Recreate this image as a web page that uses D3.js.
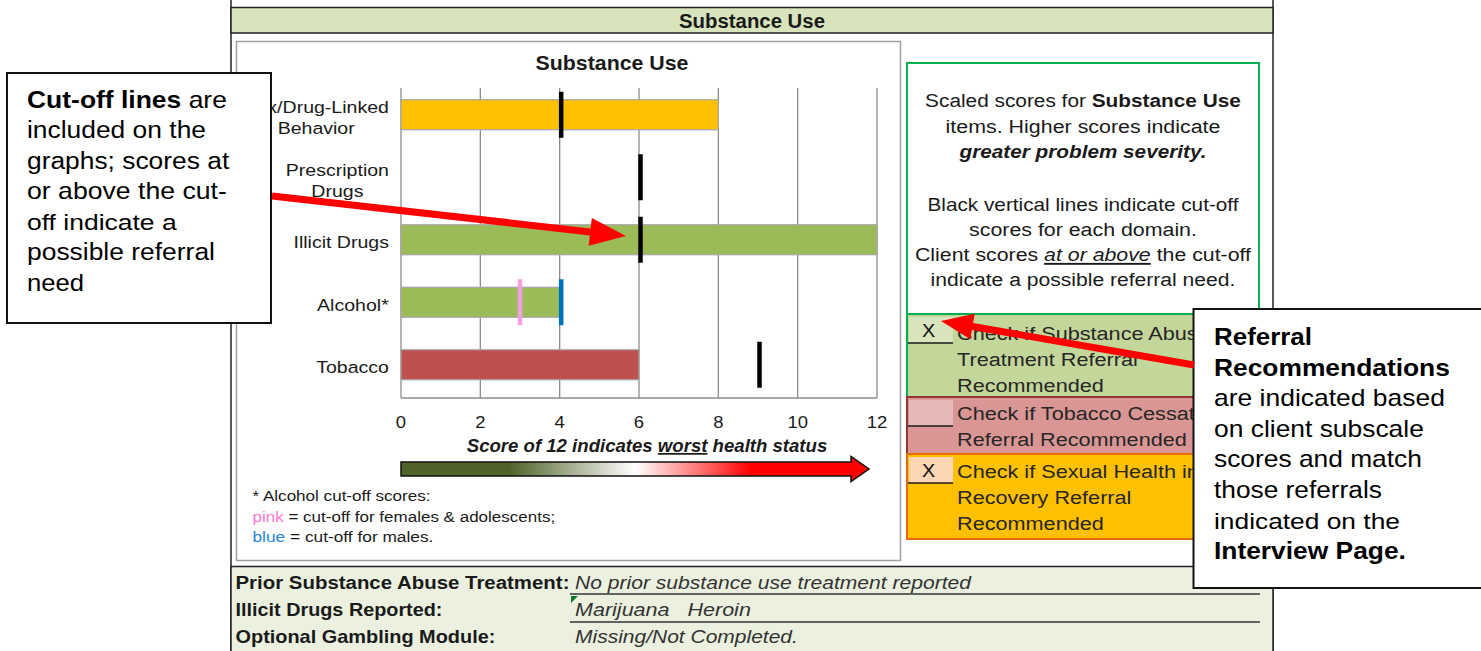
<!DOCTYPE html>
<html><head><meta charset="utf-8">
<script src="https://cdn.jsdelivr.net/npm/d3@7"></script>
<style>body{margin:0;background:#fff}svg{display:block}</style>
</head><body>
<svg id="c" width="1481" height="651"></svg>
<script>
// ---------- data ----------
const categories = ["Sex/Drug-Linked Behavior", "Prescription Drugs", "Illicit Drugs", "Alcohol*", "Tobacco"];
const categoryLines = [["Sex/Drug-Linked", "Behavior"], ["Prescription", "Drugs"], ["Illicit Drugs"], ["Alcohol*"], ["Tobacco"]];
const scores = [8, 0, 12, 4, 6];
const cutoffs = [4, 6, 6, 4, 9];
const cutoffColors = ["#000000", "#000000", "#000000", "#0070C0", "#000000"];
const femaleCutoffs = [null, null, null, 3, null];
const barColors = ["#FFC000", "#9BBB59", "#9BBB59", "#9BBB59", "#C0504D"];
const tickValues = [0, 2, 4, 6, 8, 10, 12];
const referrals = [
  {lines: ["Check if Substance Abuse", "Treatment Referral", "Recommended"], checked: true},
  {lines: ["Check if Tobacco Cessation", "Referral Recommended"], checked: false},
  {lines: ["Check if Sexual Health in", "Recovery Referral", "Recommended"], checked: true}
];
const infoLabels = ["Prior Substance Abuse Treatment:", "Illicit Drugs Reported:", "Optional Gambling Module:"];
const infoValues = ["No prior substance use treatment reported", "Marijuana   Heroin", "Missing/Not Completed."];

// ---------- helpers ----------
const FONT = "'Liberation Sans', Arial, Helvetica, sans-serif";
const NARROW = "'Liberation Sans Narrow', 'Arial Narrow', 'Liberation Sans', Arial, sans-serif";
const svg = d3.select("#c");
function txt(parent, o) {
  const g = parent.append("g");
  const t = g.append("text")
    .attr("font-size", o.size).attr("font-family", o.family || FONT)
    .attr("font-weight", o.weight || "normal").attr("font-style", o.style || "normal")
    .attr("fill", o.fill || "#1a1a1a").attr("text-anchor", o.anchor || "start")
    .style("white-space", "pre");
  const parts = typeof o.parts === "string" ? [{t: o.parts}] : o.parts;
  parts.forEach(p => {
    const ts = t.append("tspan").text(p.t);
    if (p.b) ts.attr("font-weight", "bold");
    if (p.i) ts.attr("font-style", "italic");
    if (p.u) ts.attr("text-decoration", "underline");
    if (p.fill) ts.attr("fill", p.fill);
  });
  let s = o.sx || 1.13;
  if (o.width) { const w = t.node().getBBox().width; if (w > 0) s = o.width / w; }
  g.attr("transform", `translate(${o.x},${o.y}) scale(${s},1)`);
  return g;
}
function arrowPoly(x1, y1, x2, y2, shaft, headLen, headW) {
  const dx = x2 - x1, dy = y2 - y1, L = Math.hypot(dx, dy);
  const ux = dx / L, uy = dy / L, nx = -uy, ny = ux;
  const bx = x2 - ux * headLen, by = y2 - uy * headLen;
  const p = [
    [x1 + nx * shaft / 2, y1 + ny * shaft / 2], [bx + nx * shaft / 2, by + ny * shaft / 2],
    [bx + nx * headW / 2, by + ny * headW / 2], [x2, y2],
    [bx - nx * headW / 2, by - ny * headW / 2], [bx - nx * shaft / 2, by - ny * shaft / 2],
    [x1 - nx * shaft / 2, y1 - ny * shaft / 2]
  ];
  return "M" + p.map(d => d.join(",")).join("L") + "Z";
}

// ---------- frame ----------
svg.append("rect").attr("x", 0).attr("y", 0).attr("width", 1481).attr("height", 651).attr("fill", "#fff");
svg.append("line").attr("x1", 231).attr("x2", 231).attr("y1", 0).attr("y2", 651).attr("stroke", "#222").attr("stroke-width", 1.5);
svg.append("line").attr("x1", 1273).attr("x2", 1273).attr("y1", 0).attr("y2", 651).attr("stroke", "#222").attr("stroke-width", 1.5);
svg.append("rect").attr("x", 231).attr("y", 7.5).attr("width", 1042).attr("height", 25.5)
  .attr("fill", "#D8E4BC").attr("stroke", "#222").attr("stroke-width", 1.5);
txt(svg, {x: 752, y: 27.5, parts: "Substance Use", size: 20, weight: "bold", anchor: "middle", width: 146, family: NARROW});

// chart box
svg.append("rect").attr("x", 236.5).attr("y", 41.5).attr("width", 664).attr("height", 519)
  .attr("fill", "#fff").attr("stroke", "#a0a0a0").attr("stroke-width", 1.5);
txt(svg, {x: 612, y: 69.5, parts: "Substance Use", size: 21, weight: "bold", anchor: "middle", width: 153, family: NARROW});

// ---------- chart ----------
const plotTop = 88, plotBottom = 398;
const x = d3.scaleLinear().domain([0, 12]).range([401, 877]);
const y = d3.scaleBand().domain(categories).range([83.5, 396]).paddingInner(0.52).paddingOuter(0.26);
const cy = c => y(c) + y.bandwidth() / 2;

const chart = svg.append("g");
chart.selectAll("line.grid").data(tickValues).join("line").attr("class", "grid")
  .attr("x1", d => x(d)).attr("x2", d => x(d)).attr("y1", plotTop).attr("y2", plotBottom)
  .attr("stroke", "#8c8c8c").attr("stroke-width", 1.3);
chart.append("line").attr("x1", x(0)).attr("x2", x(12)).attr("y1", plotBottom).attr("y2", plotBottom)
  .attr("stroke", "#8c8c8c").attr("stroke-width", 1.3);

chart.selectAll("rect.bar").data(categories).join("rect").attr("class", "bar")
  .attr("x", x(0)).attr("y", d => y(d))
  .attr("width", (d, i) => x(scores[i]) - x(0)).attr("height", y.bandwidth())
  .attr("fill", (d, i) => barColors[i])
  .attr("stroke", (d, i) => scores[i] > 0 ? "#a6a6a6" : "none").attr("stroke-width", 1.2);

const cutH = 46;
chart.selectAll("line.fcut").data(categories.filter((d, i) => femaleCutoffs[i] != null)).join("line").attr("class", "fcut")
  .attr("x1", d => x(femaleCutoffs[categories.indexOf(d)])).attr("x2", d => x(femaleCutoffs[categories.indexOf(d)]))
  .attr("y1", d => cy(d) - cutH / 2).attr("y2", d => cy(d) + cutH / 2)
  .attr("stroke", "#F59FE3").attr("stroke-width", 4.5);
chart.selectAll("line.cut").data(categories).join("line").attr("class", "cut")
  .attr("x1", (d, i) => x(cutoffs[i]) + 1.5).attr("x2", (d, i) => x(cutoffs[i]) + 1.5)
  .attr("y1", d => cy(d) - cutH / 2).attr("y2", d => cy(d) + cutH / 2)
  .attr("stroke", (d, i) => cutoffColors[i]).attr("stroke-width", 4.5);

// category labels
categories.forEach((c, i) => {
  const lines = categoryLines[i];
  const sx = 1.15, size = 17;
  const widths = lines.map(l => {
    const t = svg.append("text").attr("font-size", size).attr("font-family", FONT).text(l);
    const w = t.node().getBBox().width * sx; t.remove(); return w;
  });
  const maxW = d3.max(widths);
  const cx = 389 - maxW / 2;
  const base = lines.length === 1 ? [cy(c) + 8.5] : [cy(c) - 1.5, cy(c) + 19.5];
  lines.forEach((l, j) => txt(chart, {x: cx, y: base[j], parts: l, size, anchor: "middle", sx}));
});

// tick labels
tickValues.forEach(v => txt(chart, {x: x(v), y: 428, parts: String(v), size: 16.5, anchor: "middle", sx: 1.12}));

// axis title
txt(chart, {x: 647, y: 452, size: 17.5, weight: "bold", style: "italic", anchor: "middle", width: 361,
  parts: [{t: "Score of 12 indicates "}, {t: "worst", u: true}, {t: " health status"}]});

// gradient arrow
const defs = svg.append("defs");
const grad = defs.append("linearGradient").attr("id", "sev").attr("x1", "0%").attr("x2", "100%").attr("y1", "0%").attr("y2", "0%");
[[0, "#4F6228"], [0.23, "#4F6228"], [0.5, "#FFFFFF"], [0.75, "#FF0000"], [1, "#FF0000"]]
  .forEach(([o, c]) => grad.append("stop").attr("offset", o).attr("stop-color", c));
const ax0 = x(0), ax1 = x(12) - 8, ah = 18, ayc = 469;
chart.append("path")
  .attr("d", `M${ax0},${ayc - 7}L${ax1 - ah},${ayc - 7}L${ax1 - ah},${ayc - 12.5}L${ax1},${ayc}L${ax1 - ah},${ayc + 12.5}L${ax1 - ah},${ayc + 7}L${ax0},${ayc + 7}Z`)
  .attr("fill", "url(#sev)").attr("stroke", "#111").attr("stroke-width", 1.5);

// footnote
txt(svg, {x: 252.5, y: 501, parts: "* Alcohol cut-off scores:", size: 14.5, width: 178});
txt(svg, {x: 252.5, y: 522, parts: [{t: "pink", fill: "#FF77D5"}, {t: " = cut-off for females & adolescents;"}], size: 14.5, width: 303});
txt(svg, {x: 252.5, y: 542, parts: [{t: "blue", fill: "#1F86D6"}, {t: " = cut-off for males."}], size: 14.5, width: 181});

// ---------- right info box ----------
svg.append("rect").attr("x", 907).attr("y", 63).attr("width", 352).attr("height", 251)
  .attr("fill", "#fff").attr("stroke", "#00B050").attr("stroke-width", 2);
const infoLines = [
  {p: [{t: "Scaled scores for "}, {t: "Substance Use", b: true}], y: 107, w: 316},
  {p: "items. Higher scores indicate", y: 133, w: 275},
  {p: [{t: "greater problem severity.", b: true, i: true}], y: 158, w: 248},
  {p: "Black vertical lines indicate cut-off", y: 211, w: 312},
  {p: "scores for each domain.", y: 236, w: 228},
  {p: [{t: "Client scores "}, {t: "at or above", i: true, u: true}, {t: " the cut-off"}], y: 261, w: 337},
  {p: "indicate a possible referral need.", y: 286, w: 305}
];
infoLines.forEach(l => txt(svg, {x: 1083, y: l.y, parts: l.p, size: 19, anchor: "middle", width: l.w}));

// referral rows
const rowDefs = [
  {y0: 314, y1: 397, fill: "#C4D79B", stroke: "#00B050", cell: "#D8E4BC", cellY: 317, base: [340, 365.5, 391.5]},
  {y0: 397, y1: 454, fill: "#DA9694", stroke: "#963634", cell: "#E6B8B7", cellY: 400, base: [420, 446]},
  {y0: 454, y1: 539, fill: "#FFC000", stroke: "#E46C0A", cell: "#FCD5B4", cellY: 457, base: [478, 504, 530]}
];
referrals.forEach((r, i) => {
  const d = rowDefs[i];
  svg.append("rect").attr("x", 907).attr("y", d.y0).attr("width", 352).attr("height", d.y1 - d.y0)
    .attr("fill", d.fill).attr("stroke", d.stroke).attr("stroke-width", 2);
  svg.append("rect").attr("x", 909).attr("y", d.cellY).attr("width", 44).attr("height", 26).attr("fill", d.cell);
  svg.append("line").attr("x1", 908).attr("x2", 953).attr("y1", d.cellY + 26).attr("y2", d.cellY + 26)
    .attr("stroke", "#1a1a1a").attr("stroke-width", 1.3);
  if (r.checked) txt(svg, {x: 928.5, y: d.cellY + 20, parts: "X", size: 18, anchor: "middle", sx: 1.1, fill: "#111"});
  r.lines.forEach((l, j) => txt(svg, {x: 957, y: d.base[j], parts: l, size: 19, fill: "#262626", sx: 1.14}));
});

// ---------- bottom info section ----------
svg.append("rect").attr("x", 231).attr("y", 566.5).attr("width", 1042).attr("height", 86)
  .attr("fill", "#EBF1DE").attr("stroke", "#222").attr("stroke-width", 1.5);
const labW = [334, 207, 260], valW = [397, 176, 223], rowY = [588.5, 616, 643];
infoLabels.forEach((l, i) => {
  txt(svg, {x: 235.5, y: rowY[i], parts: l, size: 19, weight: "bold", width: labW[i], family: NARROW});
  txt(svg, {x: 575, y: rowY[i], parts: infoValues[i], size: 18.5, style: "italic", fill: "#333", width: valW[i], family: NARROW});
});
[594, 622].forEach(yy => svg.append("line").attr("x1", 570).attr("x2", 1260).attr("y1", yy).attr("y2", yy)
  .attr("stroke", "#333").attr("stroke-width", 1.3));
svg.append("path").attr("d", "M571,596L578,596L571,603Z").attr("fill", "#0B7A2E");

// ---------- callouts ----------
svg.append("rect").attr("x", 7).attr("y", 73).attr("width", 264).attr("height", 250)
  .attr("fill", "#fff").attr("stroke", "#111").attr("stroke-width", 2);
const leftLines = [
  {p: [{t: "Cut-off lines", b: true}, {t: " are"}], w: 200},
  {p: "included on the", w: 179},
  {p: "graphs; scores at", w: 203},
  {p: "or above the cut-", w: 200},
  {p: "off indicate a", w: 150},
  {p: "possible referral", w: 188},
  {p: "need", w: 57}
];
leftLines.forEach((l, i) => txt(svg, {x: 27, y: 107.5 + i * 30.5, parts: l.p, size: 23, fill: "#000", width: l.w}));

svg.append("rect").attr("x", 1193.5).attr("y", 309).attr("width", 300).attr("height", 279)
  .attr("fill", "#fff").attr("stroke", "#111").attr("stroke-width", 2);
const rightLines = [
  {p: [{t: "Referral", b: true}], w: 98},
  {p: [{t: "Recommendations", b: true}], w: 236},
  {p: "are indicated based", w: 231},
  {p: "on client subscale", w: 210},
  {p: "scores and match", w: 208},
  {p: "those referrals", w: 168},
  {p: "indicated on the", w: 186},
  {p: [{t: "Interview Page.", b: true}], w: 192}
];
rightLines.forEach((l, i) => txt(svg, {x: 1214, y: 345 + i * 30.6, parts: l.p, size: 23, fill: "#000", width: l.w}));

// red arrows
svg.append("path").attr("d", arrowPoly(272, 196, 626, 236, 7, 36, 28)).attr("fill", "#FF0000");
svg.append("path").attr("d", arrowPoly(1194, 365, 941, 321, 7, 32, 26)).attr("fill", "#FF0000");
</script>
</body></html>
